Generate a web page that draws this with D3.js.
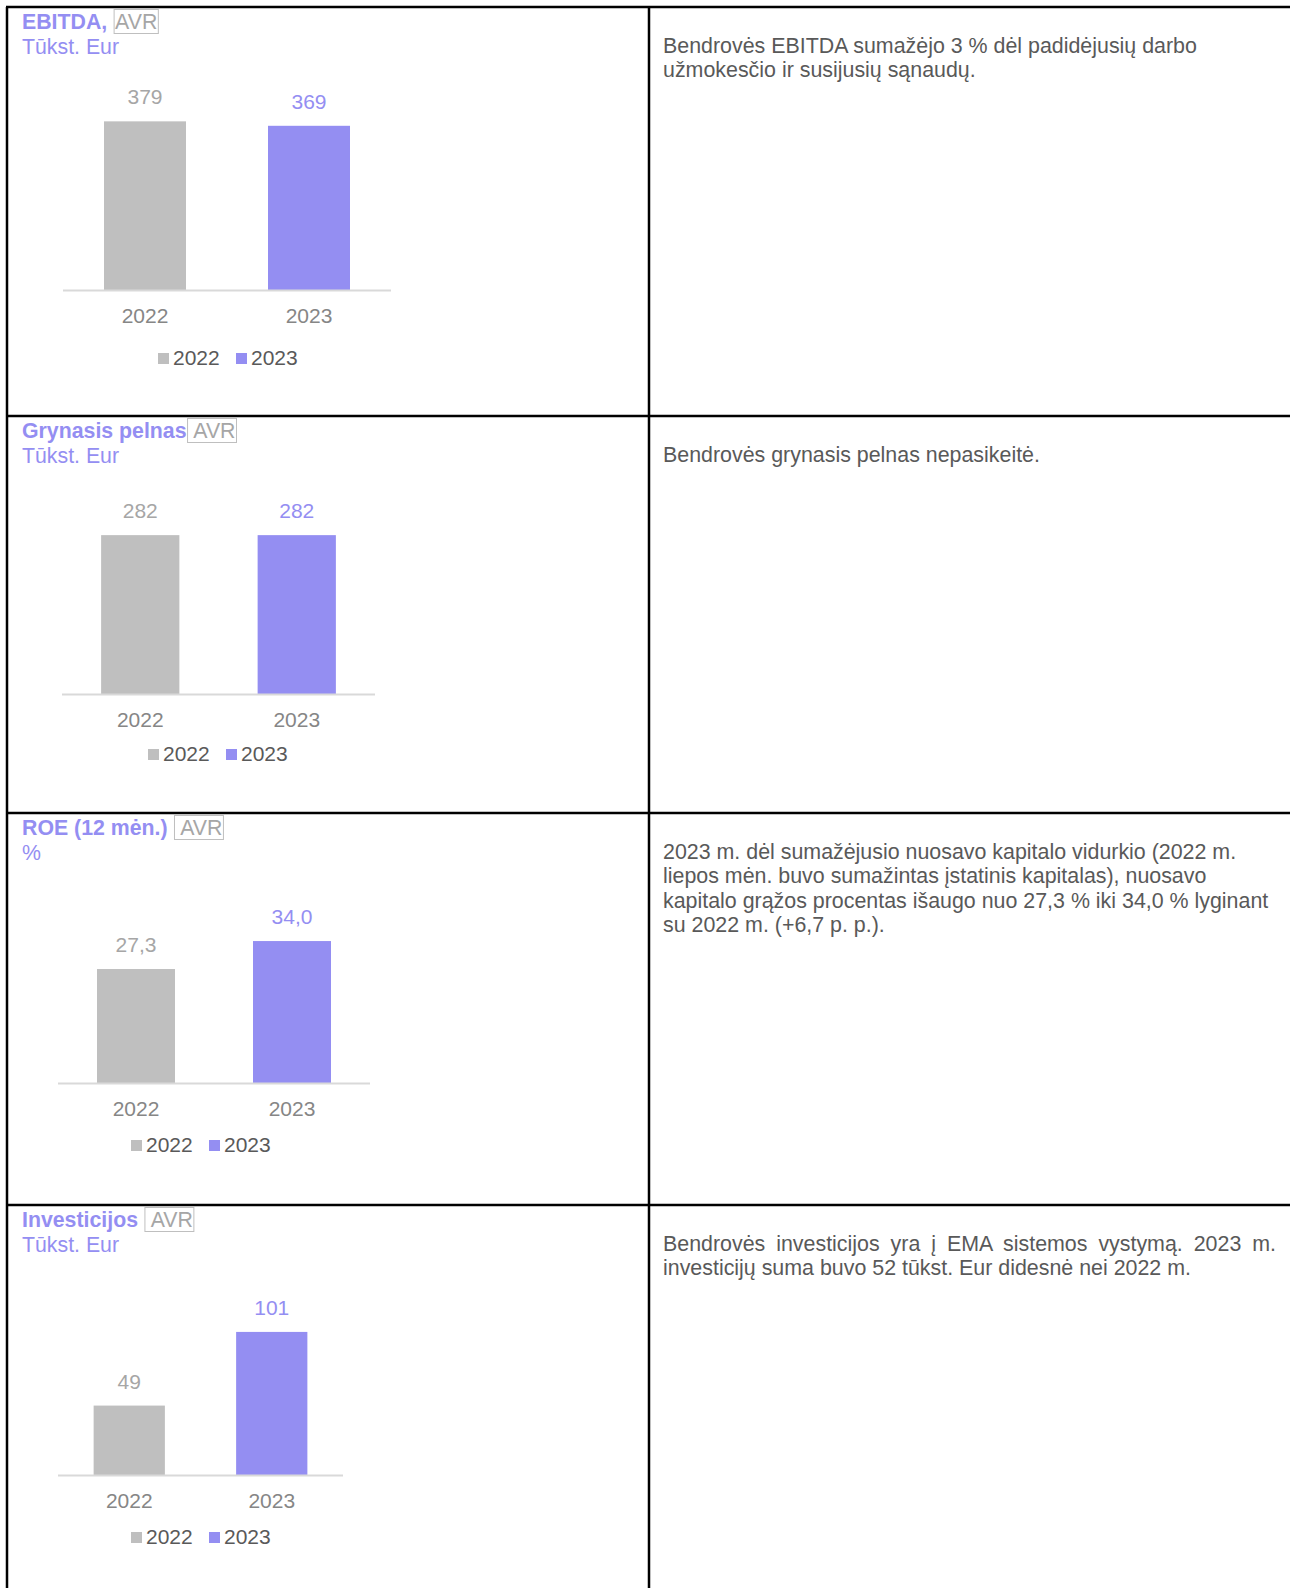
<!DOCTYPE html>
<html>
<head>
<meta charset="utf-8">
<title>Rodikliai</title>
<script src="https://cdn.jsdelivr.net/npm/d3@7"></script>
<style>
	body, html {
		margin: 0;
		padding: 0;
		background: #fff;
	}
	svg text {
		font-family: "Liberation Sans", Arial, sans-serif;
		white-space: pre;
	}
	.title { font-size: 21.3px; font-weight: bold; fill: #948ef2; }
	.avr { font-size: 21.3px; fill: #a6a6a6; }
	.unit { font-size: 21.3px; fill: #948ef2; }
	.cat { font-size: 21px; fill: #868686; text-anchor: middle; }
	.val { font-size: 21px; text-anchor: middle; }
	.leg { font-size: 21px; fill: #595959; }
	.note { font-size: 21.4px; fill: #595959; }
</style>
</head>
<body>
<svg id="Chart"></svg>

<script>

	// data
	var years = ["2022", "2023"];
	var ebitda = [379, 369];
	var netProfit = [282, 282];
	var roe = [27.3, 34.0];
	var investment = [49, 101];

	var titles = ["EBITDA, ", "Grynasis pelnas", "ROE (12 mėn.) ", "Investicijos "];
	var tags = ["AVR", " AVR", " AVR", " AVR"];
	var units = ["Tūkst. Eur", "Tūkst. Eur", "%", "Tūkst. Eur"];
	var decimals = [0, 0, 1, 0];

	var notes = [
		["Bendrovės EBITDA sumažėjo 3 % dėl padidėjusių darbo",
		 "užmokesčio ir susijusių sąnaudų."],
		["Bendrovės grynasis pelnas nepasikeitė."],
		["2023 m. dėl sumažėjusio nuosavo kapitalo vidurkio (2022 m.",
		 "liepos mėn. buvo sumažintas įstatinis kapitalas), nuosavo",
		 "kapitalo grąžos procentas išaugo nuo 27,3 % iki 34,0 % lyginant",
		 "su 2022 m. (+6,7 p. p.)."],
		["Bendrovės investicijos yra į EMA sistemos vystymą. 2023 m.",
		 "investicijų suma buvo 52 tūkst. Eur didesnė nei 2022 m."]
	];
	var justified = [[], [], [], [0]];

	var series = [ebitda, netProfit, roe, investment];

	// layout of the table and of each small chart
	var W = 1290, H = 1588;
	var rowTops = [7, 416, 813, 1205];
	var midX = 649, leftX = 7;
	var axisX = [[63, 391], [62, 375], [58, 370], [58, 343]];
	var baseY = [290, 694, 1083, 1475];
	var plotH = [178, 169, 167, 170];
	var yMax = [400, 300, 40, 120];
	var legendX = [158, 148, 131, 131];
	var legendDy = [75, 67, 69, 69];

	var COLORS = ["#bfbfbf", "#948ef2"];
	var VAL_COLORS = ["#a6a6a6", "#948ef2"];

	var svg = d3.select("#Chart")
		.attr("width", W)
		.attr("height", H);

	// table borders
	var grid = svg.append("g")
		.attr("stroke", "#000")
		.attr("stroke-width", 2.5);

	grid.selectAll("line.h")
		.data(rowTops)
	  .enter().append("line")
		.attr("x1", leftX - 1).attr("x2", W)
		.attr("y1", function(d) { return d; })
		.attr("y2", function(d) { return d; });

	grid.append("line")
		.attr("x1", leftX).attr("x2", leftX)
		.attr("y1", rowTops[0]).attr("y2", H);
	grid.append("line")
		.attr("x1", midX).attr("x2", midX)
		.attr("y1", rowTops[0]).attr("y2", H);

	function fmt(v, dec) {
		return v.toFixed(dec).replace(".", ",");
	}

	function drawRow(k) {
		var rowTop = rowTops[k];
		var g = svg.append("g");

		// title + AVR box
		var t = g.append("text")
			.attr("class", "title")
			.attr("x", 22)
			.attr("y", rowTop + 22)
			.text(titles[k]);
		var tw = t.node().getComputedTextLength();

		var avr = g.append("text")
			.attr("class", "avr")
			.attr("x", 22 + tw + 2)
			.attr("y", rowTop + 22)
			.text(tags[k]);
		var aw = avr.node().getComputedTextLength();
		g.append("rect")
			.attr("x", 22 + tw + 1)
			.attr("y", rowTop + 2.5)
			.attr("width", aw + 2)
			.attr("height", 24)
			.attr("fill", "none")
			.attr("stroke", "#bfbfbf")
			.attr("stroke-width", 1);

		g.append("text")
			.attr("class", "unit")
			.attr("x", 22)
			.attr("y", rowTop + 47)
			.text(units[k]);

		// scales
		var x = d3.scaleBand()
			.domain(years)
			.range(axisX[k])
			.paddingInner(0.5)
			.paddingOuter(0.25);
		var y = d3.scaleLinear()
			.domain([0, yMax[k]])
			.range([baseY[k], baseY[k] - plotH[k]]);

		var data = series[k].map(function(v, i) { return {year: years[i], value: v, i: i}; });
		var dec = decimals[k];

		g.selectAll("rect.bar")
			.data(data)
		  .enter().append("rect")
			.attr("class", "bar")
			.attr("x", function(d) { return x(d.year); })
			.attr("y", function(d) { return y(d.value); })
			.attr("width", x.bandwidth())
			.attr("height", function(d) { return y(0) - y(d.value); })
			.attr("fill", function(d) { return COLORS[d.i]; });

		g.selectAll("text.val")
			.data(data)
		  .enter().append("text")
			.attr("class", "val")
			.attr("x", function(d) { return x(d.year) + x.bandwidth() / 2; })
			.attr("y", function(d) { return y(d.value) - 17; })
			.attr("fill", function(d) { return VAL_COLORS[d.i]; })
			.text(function(d) { return fmt(d.value, dec); });

		// axis line
		g.append("line")
			.attr("x1", axisX[k][0]).attr("x2", axisX[k][1])
			.attr("y1", y(0) + 0.5).attr("y2", y(0) + 0.5)
			.attr("stroke", "#d9d9d9")
			.attr("stroke-width", 2);

		g.selectAll("text.cat")
			.data(years)
		  .enter().append("text")
			.attr("class", "cat")
			.attr("x", function(d) { return x(d) + x.bandwidth() / 2; })
			.attr("y", baseY[k] + 33)
			.text(function(d) { return d; });

		// legend
		var ly = baseY[k] + legendDy[k];
		var leg = g.selectAll("g.leg")
			.data(years)
		  .enter().append("g")
			.attr("class", "leg")
			.attr("transform", function(d, i) {
				return "translate(" + (legendX[k] + i * 78) + "," + ly + ")";
			});
		leg.append("rect")
			.attr("x", 0).attr("y", -12)
			.attr("width", 11).attr("height", 11)
			.attr("fill", function(d, i) { return COLORS[i]; });
		leg.append("text")
			.attr("x", 15)
			.attr("y", 0)
			.text(function(d) { return d; });

		// note text on the right
		var noteX = midX + 14, noteRight = 1276;
		notes[k].forEach(function(line, li) {
			var nt = svg.append("text")
				.attr("class", "note")
				.attr("x", noteX)
				.attr("y", rowTop + 46 + li * 24.3)
				.text(line);
			if (justified[k].indexOf(li) >= 0) {
				var natural = nt.node().getComputedTextLength();
				var spaces = line.split(" ").length - 1;
				nt.attr("word-spacing", (noteRight - noteX - natural) / spaces);
			}
		});
	}

	for (var k = 0; k < series.length; k++) {
		drawRow(k);
	}

</script>
</body>
</html>
